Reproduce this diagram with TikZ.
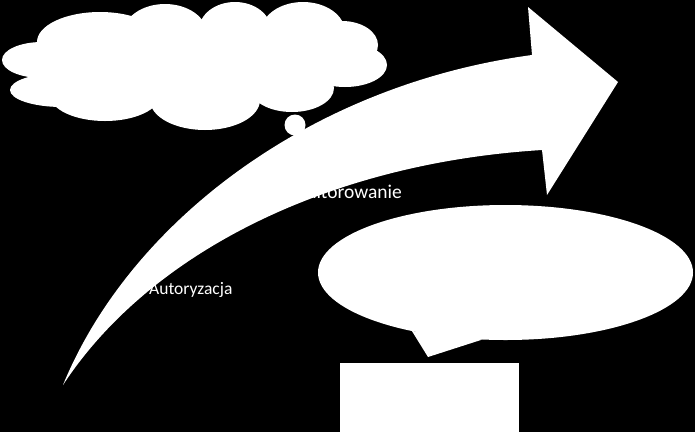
\documentclass[tikz,border=0pt]{standalone}
\usepackage{fontspec}
\setmainfont{Carlito}
\usetikzlibrary{shapes.geometric}
\tikzset{blob/.style={fill=white, draw=none, inner sep=0pt, outer sep=0pt}}
\tikzset{lbl/.style={text=white, inner sep=0pt}}

\begin{document}
\begin{tikzpicture}[x=1pt, y=-1pt]
   \fill[black] (0,0) rectangle (695,432);
   \useasboundingbox (0,0) rectangle (695,432);
   % cloud from puffs
   \coordinate (cloud) at (195,65);
   \fill[white] (cloud) ellipse [x radius=150pt, y radius=40pt];
   \foreach \cx/\cy/\rx/\ry in {42/60/40/18, 62/90/52/17, 105/95/55/26, 100/42/63/30,
      165/34/42/30, 235/30/36/28, 303/32/42/30, 342/45/36/24, 345/65/42/22,
      292/88/42/24, 205/100/55/30}
      \fill[white] (\cx,\cy) ellipse [x radius=\rx pt, y radius=\ry pt];
   \node[blob, circle, minimum size=21pt] (dot) at (295,125) {};
   % curved arrow
   \fill[white] (63,385) .. controls (130,222) and (310,85) .. (532,55)
      -- (528,7) -- (618,82) -- (547,195) -- (542,150)
      .. controls (330,163) and (150,252) .. (63,385) -- cycle;
   \node[blob, ellipse, minimum width=375pt, minimum height=135pt] (bubble) at (505.5,272.5) {};
   \coordinate (tip) at (428,357);
   \fill[white] (bubble.212) -- (tip) -- (bubble.251) -- cycle;
   \node[blob, rectangle, minimum width=179pt, minimum height=69pt] (box) at (429.5,397.5) {};
   \node[lbl, anchor=base west, font=\fontsize{17.5}{21}\selectfont] (auth) at (149,294) {Autoryzacja};
   \node[lbl, anchor=base east, font=\fontsize{19.5}{23}\selectfont] (mon) at (402,198.5) {Monitorowanie};
\end{tikzpicture}
\end{document}
